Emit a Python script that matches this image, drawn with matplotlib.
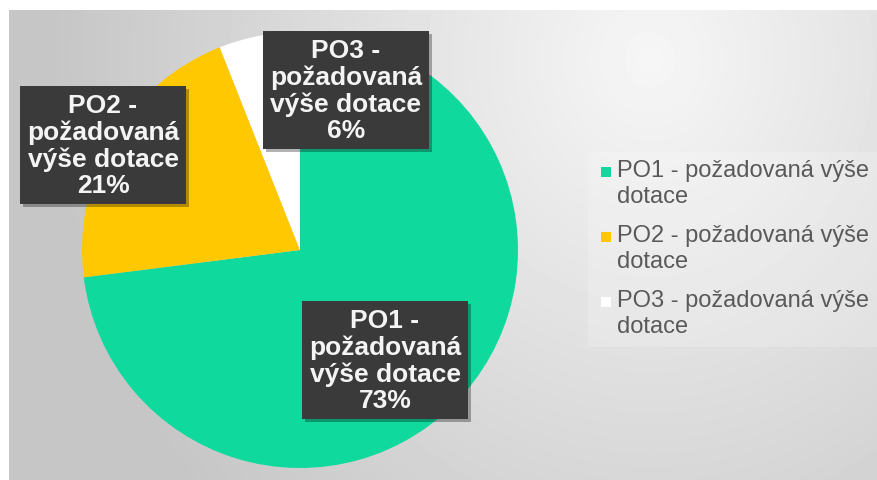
import textwrap
import numpy as np
import matplotlib
matplotlib.use('Agg')
import matplotlib.pyplot as plt
import matplotlib.patheffects as pe
from matplotlib.patches import Rectangle

# Data
categories = ["PO1 - požadovaná výše dotace",
              "PO2 - požadovaná výše dotace",
              "PO3 - požadovaná výše dotace"]
shares = [73, 21, 6]
colors = ["#10d99e", "#ffc800", "#ffffff"]

W, H = 877, 481
fig = plt.figure(figsize=(W / 100, H / 100), dpi=100)
fig.patch.set_facecolor("white")

# background with a soft radial gradient (chart area starts a bit inside)
bg = fig.add_axes([9 / W, 0, 1 - 9 / W, 1 - 11 / H], zorder=0)
yy, xx = np.mgrid[11:H, 9:W]
d = np.hypot((xx - 650) / 1.0, (yy - 60) / 1.1)
v = 0.965 - 0.19 * np.clip(d / 600, 0, 1)
bg.imshow(v, cmap="gray", vmin=0, vmax=1, aspect="auto",
          extent=[0, 1, 0, 1], interpolation="bilinear")
bg.set_axis_off()

# pie
cx, cy, r = 300, 251, 218
ax = fig.add_axes([(cx - r) / W, (H - cy - r) / H, 2 * r / W, 2 * r / H], zorder=1)
ax.pie(shares, colors=colors, startangle=90, counterclock=False,
       wedgeprops=dict(linewidth=0))
ax.set_xlim(-1, 1)
ax.set_ylim(-1, 1)
ax.set_aspect("auto")
ax.set_axis_off()

# data label boxes (pixel centres)
label_pos = [(385, 361), (103, 146), (346, 91)]
for name, s, (px, py) in zip(categories, shares, label_pos):
    t = fig.text(px / W, 1 - py / H, textwrap.fill(name, 11) + f"\n{s}%",
                 ha="center", va="center", color="#f4f4f4", fontsize=19,
                 fontweight="bold", family="Liberation Sans", linespacing=1.13,
                 zorder=5,
                 bbox=dict(boxstyle="square,pad=0.25", fc="#3a3a3a", ec="none"))
    t.get_bbox_patch().set_path_effects(
        [pe.withSimplePatchShadow(offset=(2, -2), shadow_rgbFace="black", alpha=0.3),
         pe.Normal()])

# legend, drawn by hand so the square sits on the first line
fig.patches.append(Rectangle((588 / W, 1 - 348 / H), (W - 588) / W, 195 / H,
                             transform=fig.transFigure, fc="white", alpha=0.2,
                             ec="none", zorder=2))
for i, (name, c) in enumerate(zip(categories, colors)):
    y0 = 173 + i * 65
    fig.patches.append(Rectangle((601 / W, 1 - (y0 + 5) / H), 10 / W, 10 / H,
                                 transform=fig.transFigure, fc=c, ec="none",
                                 zorder=3))
    fig.text(617 / W, 1 - (y0 - 13) / H, textwrap.fill(name, 21),
             ha="left", va="top", color="#595959", fontsize=17,
             family="Liberation Sans", linespacing=1.22, zorder=3)

fig.savefig("out.png", dpi=100)
